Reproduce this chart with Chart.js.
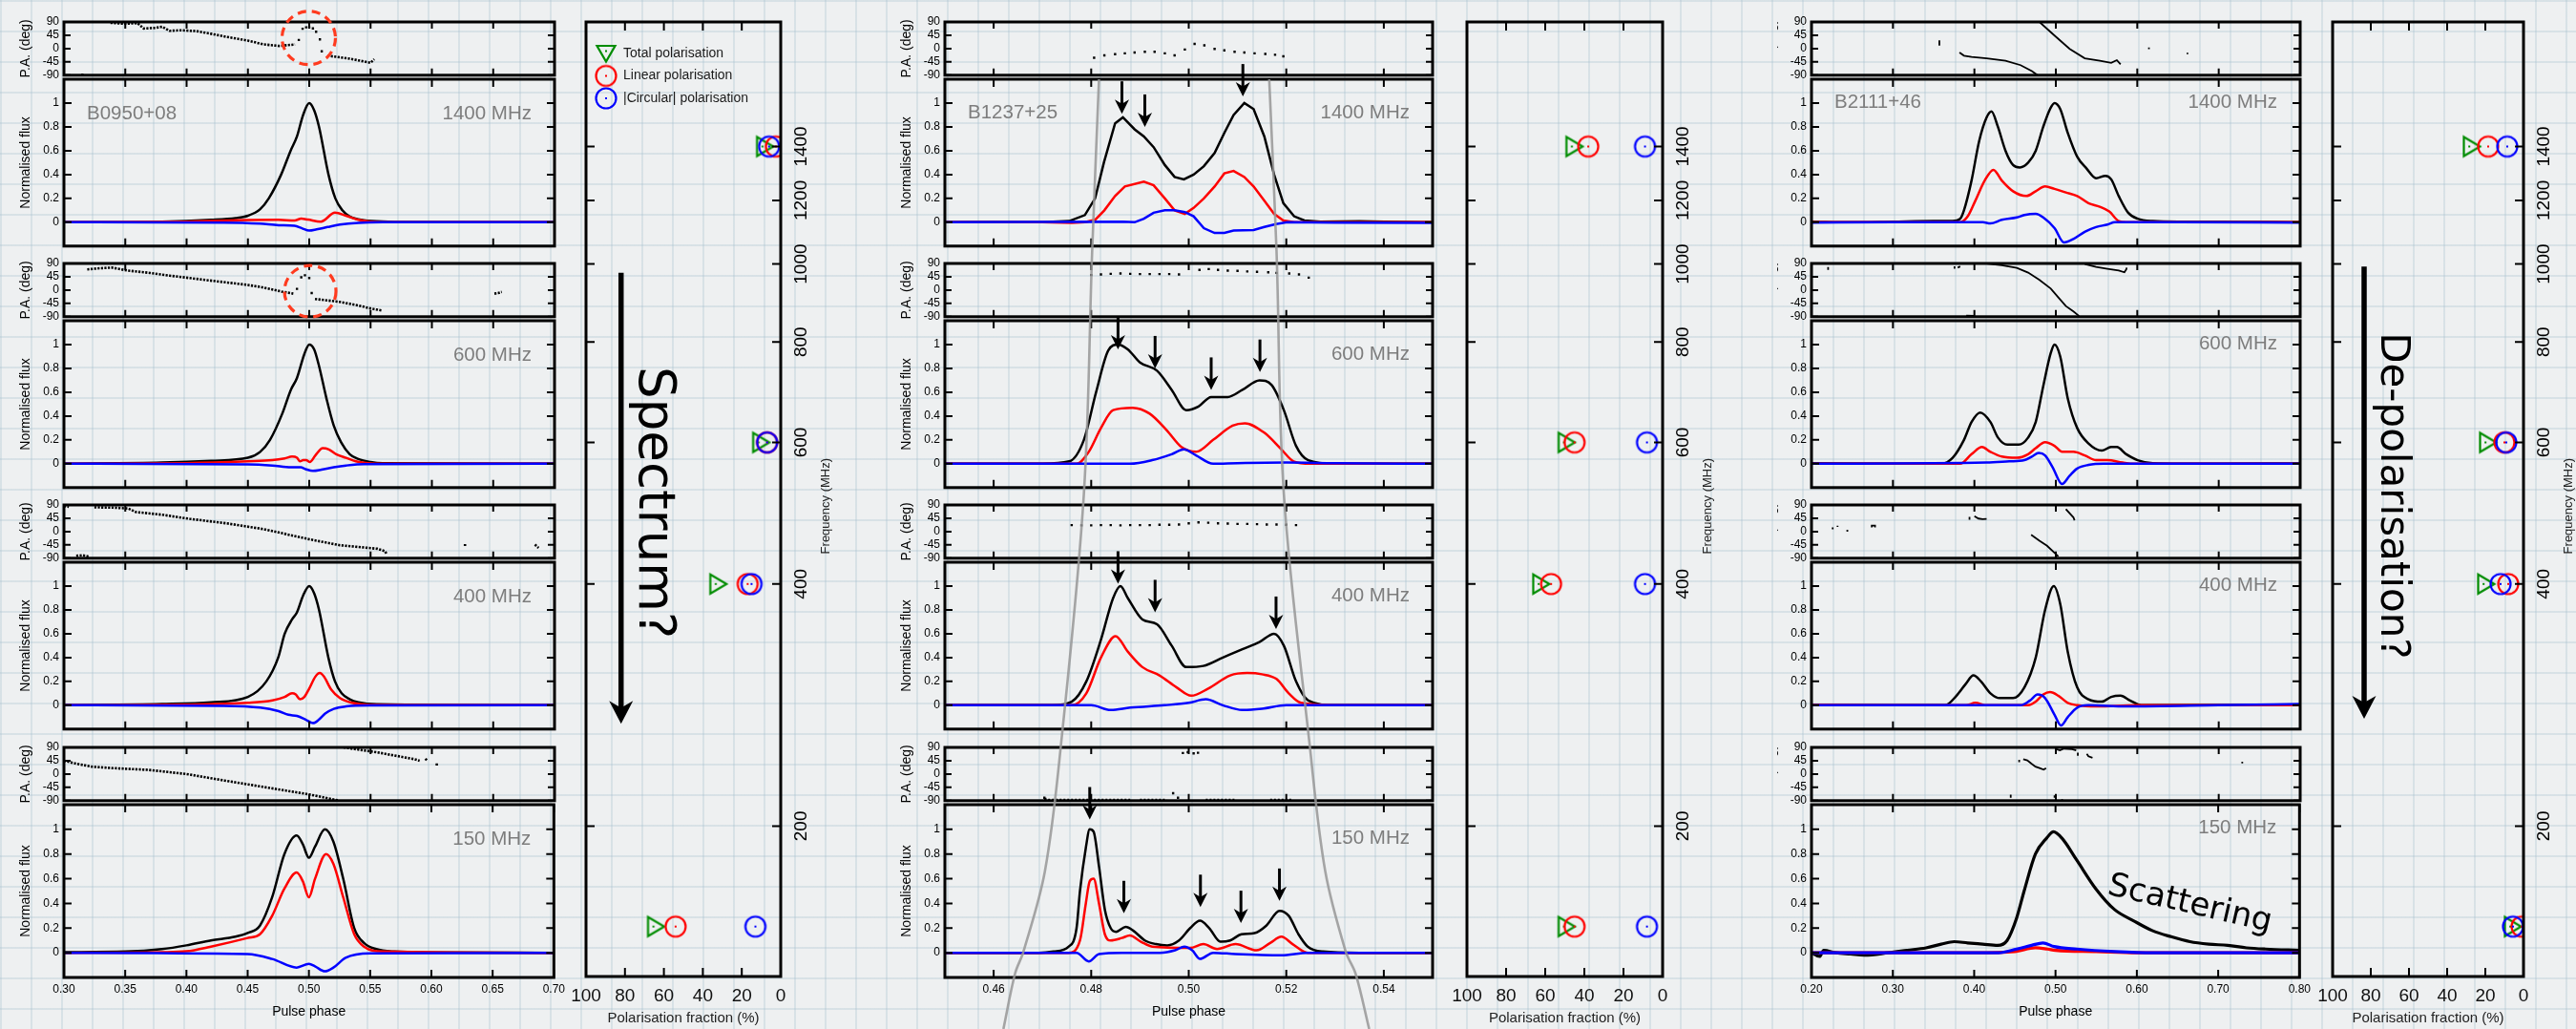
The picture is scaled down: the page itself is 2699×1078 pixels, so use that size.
<!DOCTYPE html>
<html>
<head>
<meta charset="utf-8">
<script src="https://cdn.jsdelivr.net/npm/chart.js@4.4.1/dist/chart.umd.min.js"></script>
<style>
html, body { margin: 0; padding: 0; }
body {
  width: 2699px; height: 1078px; position: relative; overflow: hidden;
  background-color: #eef0f1;
  background-image:
    linear-gradient(to right, rgba(165,190,205,0.30) 2px, transparent 2px),
    linear-gradient(to bottom, rgba(165,190,205,0.30) 2px, transparent 2px);
  background-size: 32px 32px;
}
canvas { position: absolute; }
</style>
</head>
<body>
<script>
// ---------------- axis ticks ----------------
const phaseTicksA = [0.30, 0.35, 0.40, 0.45, 0.50, 0.55, 0.60, 0.65, 0.70];
const phaseTicksB = [0.46, 0.48, 0.50, 0.52, 0.54];
const phaseTicksC = [0.20, 0.30, 0.40, 0.50, 0.60, 0.70, 0.80];
const paTicks = [-90, -45, 0, 45, 90];
const fluxTicks = [0, 0.2, 0.4, 0.6, 0.8, 1];
const fracTicks = [0, 20, 40, 60, 80, 100];
const freqTicks = [200, 400, 600, 800, 1000, 1200, 1400];

const freqs = [1400, 600, 400, 150];
const freqLabels = ['1400 MHz', '600 MHz', '400 MHz', '150 MHz'];

// ---------------- B0950+08 ----------------
const b0950_1400_I = [[0.30,0],[0.38,0.005],[0.42,0.02],[0.44,0.035],[0.45,0.055],[0.46,0.11],[0.467,0.2],[0.4771,0.4],[0.4848,0.6],[0.49,0.72],[0.495,0.9],[0.50,1.0],[0.504,0.94],[0.508,0.8],[0.5157,0.4],[0.5213,0.2],[0.527,0.1],[0.5327,0.05],[0.54,0.025],[0.551,0.01],[0.57,0.003],[0.70,0]];
const b0950_1400_L = [[0.30,0],[0.40,0.005],[0.45,0.018],[0.475,0.02],[0.488,0.015],[0.4935,0.03],[0.499,0.022],[0.5095,0.005],[0.521,0.08],[0.53,0.055],[0.54,0.02],[0.55,0.005],[0.57,0],[0.70,0]];
const b0950_1400_V = [[0.30,0],[0.43,-0.003],[0.46,-0.012],[0.475,-0.025],[0.488,-0.03],[0.494,-0.05],[0.50,-0.07],[0.506,-0.06],[0.515,-0.04],[0.525,-0.02],[0.54,-0.005],[0.56,0],[0.70,0]];
const b0950_1400_pa = [[0.338,87],[0.35,84],[0.36,86],[0.365,68],[0.375,70],[0.38,74],[0.386,60],[0.395,62],[0.408,59],[0.42,50],[0.432,40],[0.45,27],[0.463,14],[0.4756,9],[0.4884,14],[0.489,null],[0.5148,-24],[0.533,-34],[0.55,-48],[0.553,-36]];
const b0950_1400_paDots = [[0.4915,29],[0.4946,67],[0.4975,72],[0.50,72],[0.503,68],[0.5056,57],[0.5087,31],[0.5102,-9],[0.315,-88]];

const b0950_600_I = [[0.30,0],[0.38,0.01],[0.42,0.025],[0.45,0.05],[0.46,0.1],[0.468,0.2],[0.478,0.42],[0.485,0.62],[0.49,0.72],[0.496,0.92],[0.50,1.0],[0.504,0.96],[0.508,0.82],[0.514,0.55],[0.52,0.32],[0.526,0.18],[0.533,0.08],[0.54,0.04],[0.55,0.015],[0.56,0.005],[0.70,0]];
const b0950_600_L = [[0.30,0],[0.40,0.005],[0.45,0.02],[0.47,0.03],[0.48,0.045],[0.486,0.06],[0.49,0.05],[0.4925,0.02],[0.495,0.03],[0.4975,0.03],[0.5005,0.015],[0.505,0.07],[0.511,0.13],[0.516,0.12],[0.522,0.08],[0.53,0.05],[0.538,0.02],[0.548,0.005],[0.56,0],[0.70,0]];
const b0950_600_V = [[0.30,0],[0.45,-0.005],[0.47,-0.015],[0.485,-0.03],[0.493,-0.03],[0.497,-0.045],[0.503,-0.06],[0.51,-0.05],[0.52,-0.03],[0.53,-0.015],[0.545,-0.003],[0.70,0]];
const b0950_600_pa = [[0.319,70],[0.33,74],[0.339,76],[0.352,66],[0.37,58],[0.386,49],[0.40,42],[0.4157,34],[0.43,27],[0.4466,19],[0.46,11],[0.4774,-5],[0.487,-12],[0.488,null],[0.5047,-30],[0.515,-35],[0.525,-40],[0.54,-52],[0.55,-62],[0.559,-69],[0.56,null],[0.651,-12],[0.654,-10],[0.657,-6]];
const b0950_600_paDots = [[0.49,4],[0.4935,43],[0.4965,50],[0.50,41],[0.502,-10]];

const b0950_400_I = [[0.30,0],[0.38,0.01],[0.42,0.025],[0.45,0.07],[0.465,0.2],[0.4747,0.4],[0.48,0.6],[0.486,0.72],[0.49,0.78],[0.495,0.92],[0.50,1.0],[0.504,0.94],[0.508,0.8],[0.5156,0.4],[0.521,0.2],[0.5264,0.1],[0.533,0.05],[0.54,0.025],[0.555,0.008],[0.70,0]];
const b0950_400_L = [[0.30,0],[0.40,0.005],[0.45,0.02],[0.47,0.04],[0.48,0.07],[0.486,0.1],[0.489,0.09],[0.4925,0.05],[0.496,0.07],[0.50,0.14],[0.505,0.24],[0.5086,0.27],[0.512,0.24],[0.518,0.13],[0.525,0.06],[0.535,0.02],[0.55,0.003],[0.70,0]];
const b0950_400_V = [[0.30,0],[0.43,-0.005],[0.46,-0.02],[0.475,-0.05],[0.483,-0.08],[0.49,-0.09],[0.497,-0.12],[0.503,-0.15],[0.508,-0.12],[0.513,-0.07],[0.52,-0.03],[0.53,-0.01],[0.55,-0.002],[0.70,0]];
const b0950_400_pa = [[0.30,86],[0.304,84],[0.305,null],[0.3248,82],[0.34,81],[0.3525,78],[0.3587,66],[0.38,57],[0.4025,43],[0.4325,28],[0.4632,8],[0.50,-26],[0.5248,-46],[0.5555,-58],[0.5617,-66],[0.563,-75],[0.564,null],[0.31,-82],[0.315,-80],[0.32,-84],[0.321,null],[0.627,-42],[0.627,-50],[0.628,null],[0.684,-44],[0.687,-55]];
const b0950_400_paDots = [];

const b0950_150_I = [[0.30,0.005],[0.35,0.01],[0.38,0.03],[0.40,0.06],[0.42,0.1],[0.44,0.13],[0.45,0.16],[0.46,0.22],[0.47,0.45],[0.48,0.8],[0.49,0.95],[0.495,0.88],[0.50,0.77],[0.505,0.86],[0.513,1.0],[0.52,0.9],[0.528,0.6],[0.537,0.2],[0.545,0.08],[0.555,0.03],[0.57,0.01],[0.60,0.003],[0.70,0]];
const b0950_150_L = [[0.30,0],[0.38,0.005],[0.40,0.012],[0.42,0.05],[0.45,0.12],[0.46,0.15],[0.47,0.3],[0.48,0.52],[0.49,0.65],[0.495,0.58],[0.50,0.45],[0.505,0.6],[0.514,0.8],[0.52,0.72],[0.528,0.45],[0.537,0.15],[0.545,0.05],[0.56,0.01],[0.70,0]];
const b0950_150_V = [[0.30,0],[0.45,-0.01],[0.47,-0.05],[0.49,-0.12],[0.50,-0.09],[0.505,-0.11],[0.513,-0.15],[0.52,-0.12],[0.53,-0.04],[0.55,-0.005],[0.70,0]];
const b0950_150_pa = [[0.30,45],[0.305,40],[0.31,35],[0.3227,25],[0.34,20],[0.3691,14],[0.40,0],[0.4309,-22],[0.4618,-43],[0.4988,-68],[0.5236,-89],[0.524,null],[0.528,90],[0.5545,74],[0.586,50],[0.59,45],[0.591,null],[0.5947,52],[0.596,46],[0.597,null],[0.604,36],[0.604,28]];
const b0950_150_paDots = [];

// ---------------- B1237+25 ----------------
const b1237_1400_I = [[0.45,0],[0.46,0.003],[0.47,0.0],[0.4755,0.01],[0.4787,0.06],[0.4808,0.2],[0.4826,0.5],[0.4849,0.83],[0.4865,0.88],[0.4889,0.78],[0.4908,0.72],[0.4928,0.63],[0.4951,0.48],[0.4971,0.38],[0.499,0.36],[0.501,0.4],[0.5031,0.47],[0.5053,0.58],[0.5073,0.75],[0.5092,0.9],[0.5114,1.0],[0.5133,0.95],[0.5155,0.72],[0.5175,0.4],[0.5194,0.16],[0.5216,0.05],[0.5237,0.015],[0.527,0.005],[0.535,0.008],[0.54,0.005],[0.55,0.0]];
const b1237_1400_L = [[0.45,0],[0.47,0.0],[0.476,-0.005],[0.4787,0.0],[0.4808,0.02],[0.4827,0.1],[0.4849,0.22],[0.4869,0.3],[0.4908,0.34],[0.4928,0.31],[0.4951,0.2],[0.4971,0.1],[0.4992,0.07],[0.501,0.12],[0.5031,0.2],[0.5053,0.3],[0.5073,0.41],[0.5092,0.43],[0.5114,0.38],[0.5133,0.3],[0.5155,0.18],[0.5175,0.07],[0.5194,0.015],[0.5216,0.0],[0.55,0.0]];
const b1237_1400_V = [[0.45,0],[0.4865,0.005],[0.4889,0.0],[0.4908,0.03],[0.4928,0.08],[0.4951,0.1],[0.4971,0.1],[0.4992,0.085],[0.501,0.05],[0.5031,-0.05],[0.5053,-0.09],[0.5073,-0.09],[0.5092,-0.07],[0.5133,-0.065],[0.5155,-0.04],[0.5179,-0.015],[0.5202,0.0],[0.53,-0.003],[0.55,-0.006]];
const b1237_1400_pa = [];
const b1237_1400_paDots = [[0.4806,-31],[0.4827,-23],[0.4849,-19],[0.4869,-16],[0.4889,-13],[0.491,-11],[0.493,-11],[0.4951,-16],[0.4971,-23],[0.4992,-3],[0.5012,16],[0.5032,11],[0.5053,-1],[0.5073,-6],[0.5094,-11],[0.5114,-13],[0.5135,-16],[0.5157,-18],[0.5177,-21],[0.5194,-26]];
const b1237_1400_arrows = [[0.4863,0.91],[0.491,0.80],[0.5111,1.055]];

const b1237_600_I = [[0.45,0],[0.47,0.0],[0.4755,0.02],[0.4785,0.2],[0.481,0.6],[0.4835,0.95],[0.4855,1.0],[0.4875,0.96],[0.49,0.85],[0.4935,0.78],[0.4965,0.62],[0.4995,0.45],[0.502,0.48],[0.5046,0.56],[0.508,0.56],[0.511,0.62],[0.5145,0.7],[0.517,0.66],[0.5195,0.45],[0.522,0.15],[0.5245,0.03],[0.53,0.0],[0.55,0]];
const b1237_600_L = [[0.45,0],[0.477,0],[0.4795,0.1],[0.482,0.3],[0.4845,0.45],[0.4885,0.47],[0.492,0.42],[0.4955,0.28],[0.4985,0.14],[0.5015,0.1],[0.505,0.2],[0.509,0.32],[0.5115,0.34],[0.5155,0.26],[0.519,0.12],[0.5215,0.02],[0.525,0],[0.55,0]];
const b1237_600_V = [[0.45,0],[0.488,0],[0.4925,0.03],[0.4965,0.08],[0.499,0.12],[0.5015,0.07],[0.505,0.0],[0.51,0.005],[0.52,0.01],[0.53,0.005],[0.55,0]];
const b1237_600_pa = [];
const b1237_600_paDots = [[0.48,51],[0.482,53],[0.484,55],[0.486,56],[0.488,55],[0.49,54],[0.492,54],[0.494,54],[0.496,54],[0.498,53],[0.5022,68],[0.5041,71],[0.506,68],[0.508,66],[0.51,65],[0.512,63],[0.514,62],[0.5163,60],[0.518,58],[0.5206,56],[0.5226,53],[0.5246,42]];
const b1237_600_arrows = [[0.4855,0.96],[0.4931,0.80],[0.5046,0.62],[0.5146,0.77]];

const b1237_400_I = [[0.45,0],[0.472,0],[0.476,0.03],[0.479,0.2],[0.482,0.55],[0.4845,0.9],[0.486,1.0],[0.4875,0.9],[0.4905,0.72],[0.4935,0.68],[0.4965,0.5],[0.4995,0.32],[0.503,0.33],[0.507,0.4],[0.511,0.47],[0.5145,0.53],[0.5175,0.6],[0.5195,0.5],[0.522,0.2],[0.5245,0.04],[0.53,0],[0.55,0]];
const b1237_400_L = [[0.45,0],[0.476,0],[0.479,0.1],[0.482,0.4],[0.485,0.58],[0.4875,0.45],[0.4905,0.32],[0.494,0.25],[0.4975,0.15],[0.5005,0.08],[0.504,0.14],[0.5085,0.25],[0.512,0.27],[0.515,0.26],[0.518,0.22],[0.5205,0.1],[0.523,0.02],[0.53,0],[0.55,0]];
const b1237_400_V = [[0.45,0],[0.48,0],[0.484,-0.04],[0.488,-0.02],[0.495,0.0],[0.5,0.02],[0.5035,0.05],[0.507,0.0],[0.511,-0.04],[0.515,-0.03],[0.52,0],[0.55,0]];
const b1237_400_pa = [];
const b1237_400_paDots = [[0.476,22],[0.478,21],[0.48,21],[0.482,22],[0.484,22],[0.486,21],[0.488,22],[0.49,22],[0.492,22],[0.494,23],[0.496,23],[0.498,24],[0.5,28],[0.502,31],[0.504,30],[0.506,28],[0.508,27],[0.51,26],[0.512,26],[0.514,25],[0.516,24],[0.518,24],[0.52,23],[0.522,22]];
const b1237_400_arrows = [[0.4855,1.02],[0.4931,0.78],[0.5179,0.64]];

const b1237_150_I = [[0.45,0],[0.46,0.0],[0.4692,0.0],[0.4723,0.01],[0.4754,0.05],[0.477,0.2],[0.4777,0.5],[0.4789,0.85],[0.4797,1.0],[0.4805,0.98],[0.4816,0.7],[0.4828,0.35],[0.484,0.2],[0.4851,0.17],[0.4871,0.21],[0.4886,0.18],[0.491,0.1],[0.4933,0.07],[0.4956,0.06],[0.498,0.1],[0.5003,0.2],[0.5023,0.26],[0.5042,0.2],[0.5065,0.09],[0.5085,0.1],[0.5108,0.15],[0.5135,0.16],[0.5159,0.22],[0.5186,0.34],[0.5205,0.3],[0.5225,0.15],[0.5244,0.05],[0.5275,0.01],[0.535,0.0],[0.55,0]];
const b1237_150_L = [[0.45,0],[0.4754,0.0],[0.4777,0.1],[0.4789,0.4],[0.4797,0.58],[0.4805,0.6],[0.4816,0.4],[0.4828,0.15],[0.484,0.1],[0.4863,0.12],[0.4879,0.14],[0.4902,0.09],[0.4925,0.05],[0.5003,0.04],[0.503,0.07],[0.5058,0.03],[0.5096,0.07],[0.5139,0.02],[0.5167,0.08],[0.519,0.13],[0.5213,0.07],[0.5244,0.0],[0.55,0]];
const b1237_150_V = [[0.45,0],[0.477,0],[0.4795,-0.07],[0.4816,-0.01],[0.4863,0.0],[0.4941,0.0],[0.4972,0.02],[0.4991,0.05],[0.5007,0.02],[0.5023,-0.05],[0.505,0.0],[0.5096,-0.01],[0.519,-0.02],[0.5244,0.0],[0.55,0]];
const b1237_150_pa = [[0.4704,-87],[0.488,-87],[0.4885,null],[0.490,-87],[0.4955,-87],[0.496,null],[0.5035,-87],[0.5097,-87],[0.51,null],[0.5167,-87],[0.5213,-87]];
const b1237_150_paDots = [[0.4704,-80],[0.4706,-84],[0.4968,-65],[0.4978,-80],[0.4988,71],[0.4998,74],[0.501,70],[0.5019,72]];
const b1237_150_arrows = [[0.4797,1.08],[0.4867,0.32],[0.5024,0.37],[0.5107,0.24],[0.5186,0.42]];

// ---------------- B2111+46 ----------------
const b2111_1400_I = [[0.20,0.005],[0.25,0.0],[0.30,0.005],[0.35,0.01],[0.3733,0.01],[0.3826,0.03],[0.3872,0.1],[0.3965,0.35],[0.4058,0.68],[0.415,0.88],[0.421,0.93],[0.4289,0.8],[0.4382,0.6],[0.4475,0.48],[0.4558,0.46],[0.466,0.5],[0.4753,0.6],[0.4845,0.8],[0.4929,0.95],[0.4984,1.0],[0.5054,0.95],[0.5146,0.75],[0.5262,0.55],[0.5378,0.45],[0.5494,0.37],[0.561,0.39],[0.568,0.36],[0.5772,0.22],[0.5888,0.08],[0.6004,0.03],[0.6189,0.01],[0.65,0.005],[0.70,0.005],[0.80,0.0]];
const b2111_1400_L = [[0.20,0],[0.3826,0.0],[0.3919,0.05],[0.4011,0.18],[0.4127,0.35],[0.4234,0.44],[0.4336,0.35],[0.4475,0.26],[0.4637,0.22],[0.4753,0.26],[0.4868,0.3],[0.4984,0.28],[0.5123,0.25],[0.5262,0.22],[0.5401,0.16],[0.554,0.13],[0.5656,0.09],[0.5772,0.01],[0.5865,0.0],[0.80,0]];
const b2111_1400_V = [[0.20,-0.003],[0.30,0.0],[0.4104,0.0],[0.4197,-0.01],[0.4336,0.02],[0.4521,0.04],[0.4614,0.06],[0.4753,0.07],[0.4845,0.04],[0.4984,-0.05],[0.51,-0.17],[0.5216,-0.14],[0.5355,-0.08],[0.5494,-0.04],[0.5633,-0.02],[0.5726,0.0],[0.65,0.0],[0.80,-0.003]];
const b2111_1400_pa = [[0.357,10],[0.357,28],[0.358,null],[0.3817,-13],[0.3872,-24],[0.3965,-28],[0.415,-33],[0.4382,-41],[0.4567,-56],[0.4706,-76],[0.4776,-90],[0.478,null],[0.4799,90],[0.4984,44],[0.517,-1],[0.5355,-33],[0.554,-41],[0.568,-48],[0.5749,-39],[0.5795,-53],[0.58,null],[0.6143,-2],[0.6143,4],[0.615,null],[0.6616,-14],[0.6616,-19]];
const b2111_1400_paDots = [];

const b2111_600_I = [[0.20,0.005],[0.30,0.0],[0.3594,0.0],[0.3733,0.05],[0.3872,0.2],[0.3965,0.35],[0.4071,0.43],[0.4197,0.35],[0.4289,0.22],[0.4405,0.16],[0.4544,0.16],[0.466,0.22],[0.4753,0.35],[0.4845,0.65],[0.4938,0.93],[0.4984,1.0],[0.5054,0.9],[0.5146,0.55],[0.5262,0.3],[0.5401,0.17],[0.5563,0.11],[0.5679,0.14],[0.5749,0.14],[0.5865,0.08],[0.6004,0.03],[0.6189,0.005],[0.70,0.0],[0.80,0.003]];
const b2111_600_L = [[0.20,0],[0.3826,0.0],[0.3965,0.08],[0.4094,0.14],[0.4197,0.1],[0.4336,0.06],[0.4521,0.05],[0.466,0.08],[0.4753,0.13],[0.4868,0.18],[0.4984,0.15],[0.5077,0.1],[0.5216,0.1],[0.5355,0.07],[0.5494,0.03],[0.5633,0.03],[0.5819,0.01],[0.5958,0.0],[0.80,0]];
const b2111_600_V = [[0.20,0],[0.415,0.01],[0.4428,0.02],[0.4614,0.03],[0.4706,0.06],[0.479,0.09],[0.4868,0.07],[0.4961,-0.03],[0.5077,-0.17],[0.517,-0.1],[0.5262,-0.04],[0.5401,-0.01],[0.5587,0.0],[0.80,0]];
const b2111_600_pa = [[0.2204,68],[0.2204,78],[0.221,null],[0.3756,72],[0.3756,80],[0.377,null],[0.3795,76],[0.3826,80],[0.383,null],[0.39,-86],[0.40,-87],[0.401,null],[0.415,90],[0.4336,84],[0.4521,75],[0.466,59],[0.4799,34],[0.4938,5],[0.5031,-25],[0.5123,-54],[0.5216,-72],[0.5286,-88],[0.53,null],[0.5355,88],[0.5494,78],[0.5633,72],[0.5772,66],[0.5842,60],[0.5865,70],[0.587,76]];
const b2111_600_paDots = [];

const b2111_400_I = [[0.20,0.005],[0.30,0.0],[0.364,0.0],[0.378,0.08],[0.3895,0.18],[0.3988,0.25],[0.4081,0.2],[0.4197,0.1],[0.4312,0.06],[0.4475,0.06],[0.4614,0.15],[0.4753,0.4],[0.4868,0.8],[0.4975,1.0],[0.5054,0.85],[0.5146,0.45],[0.5262,0.15],[0.5401,0.05],[0.5563,0.03],[0.5679,0.07],[0.5795,0.08],[0.5911,0.04],[0.605,0.0],[0.80,0.005]];
const b2111_400_L = [[0.20,0.005],[0.30,0.0],[0.39,0.0],[0.4011,0.02],[0.415,0.0],[0.466,0.0],[0.4753,0.03],[0.4845,0.09],[0.4929,0.11],[0.5031,0.08],[0.5146,0.02],[0.5262,0.0],[0.55,-0.01],[0.60,0.0],[0.80,0.0]];
const b2111_400_V = [[0.20,0.0],[0.4568,0.0],[0.4683,0.04],[0.4776,0.09],[0.4868,0.06],[0.4984,-0.08],[0.5063,-0.17],[0.5146,-0.1],[0.5262,-0.02],[0.5401,0.0],[0.5865,-0.01],[0.70,0.0],[0.80,0.01]];
const b2111_400_pa = [[0.226,8],[0.226,14],[0.227,null],[0.232,16],[0.232,20],[0.233,null],[0.244,0],[0.244,6],[0.245,null],[0.274,14],[0.274,20],[0.278,20],[0.278,14],[0.279,null],[0.394,40],[0.394,50],[0.397,null],[0.40,52],[0.405,44],[0.41,42],[0.415,43],[0.416,null],[0.4697,-11],[0.4799,-31],[0.4892,-48],[0.5031,-84],[0.504,null],[0.5123,76],[0.5216,48],[0.523,38]];
const b2111_400_paDots = [];

const b2111_150_I = [[0.20,0.0],[0.21,-0.03],[0.215,0.02],[0.23,0.0],[0.2482,-0.01],[0.265,-0.02],[0.2945,0.0],[0.3177,0.02],[0.3409,0.04],[0.3594,0.07],[0.3756,0.09],[0.3919,0.08],[0.4104,0.07],[0.4289,0.06],[0.4405,0.1],[0.4521,0.28],[0.4614,0.5],[0.4753,0.8],[0.4892,0.93],[0.4975,0.98],[0.5077,0.93],[0.5262,0.75],[0.5494,0.52],[0.5726,0.35],[0.5958,0.26],[0.6189,0.18],[0.6421,0.13],[0.6653,0.09],[0.6885,0.07],[0.7117,0.06],[0.7349,0.04],[0.7581,0.03],[0.80,0.02]];
const b2111_150_L = [[0.20,0.0],[0.30,0.0],[0.40,0.0],[0.45,0.01],[0.4753,0.04],[0.49,0.03],[0.50,0.02],[0.55,0.01],[0.60,0.0],[0.80,0.0]];
const b2111_150_V = [[0.20,0.0],[0.30,0.0],[0.43,0.0],[0.4521,0.03],[0.4706,0.06],[0.4845,0.08],[0.4984,0.05],[0.5262,0.03],[0.5726,0.01],[0.62,0.0],[0.80,0.0]];
const b2111_150_pa = [[0.455,40],[0.455,48],[0.456,null],[0.46,50],[0.465,46],[0.47,35],[0.475,25],[0.48,20],[0.485,15],[0.488,20],[0.489,null],[0.4446,-70],[0.4446,-80],[0.445,null],[0.4984,-72],[0.4984,-80],[0.499,null],[0.50,85],[0.505,80],[0.51,86],[0.52,84],[0.525,80],[0.526,null],[0.527,72],[0.527,62],[0.528,null],[0.538,68],[0.54,60],[0.545,55],[0.546,null],[0.5077,-85],[0.5077,-90],[0.508,null],[0.7289,36],[0.7289,42]];
const b2111_150_paDots = [];

// ---------------- polarisation fractions (%) ----------------
const polFreqs = [1400, 600, 400, 150];
const b0950_fracTotal = [8, 10, 32, 64];
const b0950_fracLin = [2.5, 7, 17, 54];
const b0950_fracCirc = [6, 7, 15, 13];
const b1237_fracTotal = [45, 49, 62, 49];
const b1237_fracLin = [38, 45, 57, 45];
const b1237_fracCirc = [9, 8, 9, 8];
const b2111_fracTotal = [27, 18.5, 19.5, 5.5];
const b2111_fracLin = [18.5, 10, 8, 1];
const b2111_fracCirc = [8.5, 9, 12, 5.5];

// grey window across the B1237+25 column: [phase, fraction of figure height]
const greyLeft = [[0.4816,0.077],[0.4802,0.244],[0.4785,0.48],[0.4738,0.724],[0.4705,0.847],[0.4661,0.925],[0.4644,0.946],[0.462,1.0]];
const greyRight = [[0.5165,0.077],[0.518,0.244],[0.5195,0.48],[0.5248,0.724],[0.528,0.847],[0.5322,0.925],[0.5342,0.946],[0.537,1.0]];

// ---------------- assemble ----------------
const D = {
  b0950: {1400:{I:b0950_1400_I,L:b0950_1400_L,V:b0950_1400_V,pa:b0950_1400_pa,paDots:b0950_1400_paDots},
          600:{I:b0950_600_I,L:b0950_600_L,V:b0950_600_V,pa:b0950_600_pa,paDots:b0950_600_paDots},
          400:{I:b0950_400_I,L:b0950_400_L,V:b0950_400_V,pa:b0950_400_pa,paDots:b0950_400_paDots},
          150:{I:b0950_150_I,L:b0950_150_L,V:b0950_150_V,pa:b0950_150_pa,paDots:b0950_150_paDots}},
  b1237: {1400:{I:b1237_1400_I,L:b1237_1400_L,V:b1237_1400_V,pa:b1237_1400_pa,paDots:b1237_1400_paDots,arrows:b1237_1400_arrows,straight:true},
          600:{I:b1237_600_I,L:b1237_600_L,V:b1237_600_V,pa:b1237_600_pa,paDots:b1237_600_paDots,arrows:b1237_600_arrows},
          400:{I:b1237_400_I,L:b1237_400_L,V:b1237_400_V,pa:b1237_400_pa,paDots:b1237_400_paDots,arrows:b1237_400_arrows},
          150:{I:b1237_150_I,L:b1237_150_L,V:b1237_150_V,pa:b1237_150_pa,paDots:b1237_150_paDots,arrows:b1237_150_arrows}},
  b2111: {1400:{I:b2111_1400_I,L:b2111_1400_L,V:b2111_1400_V,pa:b2111_1400_pa,paDots:b2111_1400_paDots},
          600:{I:b2111_600_I,L:b2111_600_L,V:b2111_600_V,pa:b2111_600_pa,paDots:b2111_600_paDots},
          400:{I:b2111_400_I,L:b2111_400_L,V:b2111_400_V,pa:b2111_400_pa,paDots:b2111_400_paDots},
          150:{I:b2111_150_I,L:b2111_150_L,V:b2111_150_V,pa:b2111_150_pa,paDots:b2111_150_paDots,thick:true}}
};

const FONT = "'Liberation Sans', Arial, sans-serif";
const DECO = "'DejaVu Sans', sans-serif";
Chart.defaults.font.family = FONT;
Chart.defaults.color = '#000';
Chart.defaults.animation = false;

const cols = [
  {key:'b0950', name:'B0950+08', left:67, right:581, min:0.30, max:0.70, ticks:phaseTicksA, yw:67, titles:true, labelDy:36, paW:2.6, paDash:[2.2,1.4]},
  {key:'b1237', name:'B1237+25', left:990, right:1501, min:0.45, max:0.55, ticks:phaseTicksB, yw:67, titles:true, labelDy:35, paW:2.4, paDash:[2,2]},
  {key:'b2111', name:'B2111+46', left:1898, right:2410, min:0.20, max:0.80, ticks:phaseTicksC, yw:36, titles:false, labelDy:24, paW:1.8, paDash:[]}
];
const rowTop = [23, 276, 529, 783];
const PA_H = 60, FLUX_H = 181;

function canvasAt(x, y, w, h) {
  const c = document.createElement('canvas');
  c.width = w; c.height = h;
  c.style.left = x + 'px'; c.style.top = y + 'px';
  c.style.width = w + 'px'; c.style.height = h + 'px';
  document.body.appendChild(c);
  return c;
}

function framePlugin(o) {
  return {
    id: 'frame',
    afterDatasetsDraw(chart) {
      const ctx = chart.ctx, a = chart.chartArea;
      const x = chart.scales.x, y = chart.scales.y;
      ctx.save();
      ctx.strokeStyle = '#000';
      ctx.lineWidth = 2;
      ctx.beginPath();
      (o.xt || []).forEach(v => {
        const p = x.getPixelForValue(v);
        ctx.moveTo(p, a.top); ctx.lineTo(p, a.top + o.tl);
        ctx.moveTo(p, a.bottom); ctx.lineTo(p, a.bottom - o.tl);
      });
      (o.yt || []).forEach(v => {
        const p = y.getPixelForValue(v);
        ctx.moveTo(a.left, p); ctx.lineTo(a.left + o.tl, p);
        ctx.moveTo(a.right, p); ctx.lineTo(a.right - o.tl, p);
      });
      ctx.stroke();
      ctx.lineWidth = 3;
      ctx.strokeRect(a.left, a.top, a.right - a.left, a.bottom - a.top);
      if (o.extra) o.extra(chart, ctx, a, x, y);
      ctx.restore();
    }
  };
}

function setTicks(arr) { return s => { s.ticks = arr.map(v => ({value: v})); }; }

function downArrow(ctx, x, yTip, len, lw, hw, hl) {
  ctx.lineWidth = lw;
  ctx.beginPath(); ctx.moveTo(x, yTip - len); ctx.lineTo(x, yTip - hl * 0.6); ctx.stroke();
  ctx.beginPath(); ctx.moveTo(x, yTip); ctx.lineTo(x - hw, yTip - hl); ctx.lineTo(x, yTip - hl * 0.7); ctx.lineTo(x + hw, yTip - hl); ctx.closePath(); ctx.fill();
}

function yScale(col, min, max, ticks, title) {
  return {
    min: min, max: max,
    afterBuildTicks: setTicks(ticks),
    afterFit: s => { s.width = col.yw; },
    grid: {display: false, drawTicks: false}, border: {display: false},
    ticks: {font: {size: 12}, padding: 5, color: '#000', autoSkip: false, callback: v => String(v)},
    title: {display: col.titles, text: title, font: {size: 14}, padding: {top: 19, bottom: 0}, color: '#000'}
  };
}

// B2111+46 column: its axis titles are cut by the canvas edge, only a sliver shows
function clippedTitle(ctx, a, text) {
  ctx.save();
  ctx.font = '14px ' + FONT; ctx.fillStyle = '#000';
  ctx.textAlign = 'center'; ctx.textBaseline = 'middle';
  ctx.translate(a.left - 42, (a.top + a.bottom) / 2); ctx.rotate(-Math.PI / 2);
  ctx.fillText(text, 0, 0);
  ctx.restore();
}

function paChart(col, r) {
  const padT = 16, padB = 8, padR = 14;
  const W = col.yw + (col.right - col.left) + padR;
  const cv = canvasAt(col.left - col.yw, rowTop[r] - padT, W, padT + PA_H + padB);
  const d = D[col.key][freqs[r]];
  const ds = [];
  if (d.pa.length) ds.push({data: d.pa, showLine: true, borderColor: '#000', borderWidth: col.paW, borderDash: col.paDash, pointRadius: 0, tension: 0, spanGaps: false});
  if (d.paDots.length) ds.push({data: d.paDots, showLine: false, pointRadius: 1.7, pointStyle: 'rect', backgroundColor: '#000', borderWidth: 0});
  const extra = (chart, ctx, a, x, y) => {
    if (col.key === 'b0950' && r < 2) {
      const circ = r === 0 ? [0.4996, 36, 28] : [0.5008, -4, 27];
      ctx.strokeStyle = '#ff3b1f'; ctx.lineWidth = 3.2; ctx.setLineDash([9, 6]);
      ctx.beginPath(); ctx.arc(x.getPixelForValue(circ[0]), y.getPixelForValue(circ[1]), circ[2], 0, Math.PI * 2); ctx.stroke();
      ctx.setLineDash([]);
    }
    if (!col.titles) clippedTitle(ctx, a, 'P.A. (deg)');
  };
  new Chart(cv, {
    type: 'scatter',
    data: {datasets: ds},
    options: {
      responsive: false, maintainAspectRatio: false, devicePixelRatio: 1, animation: false,
      layout: {padding: {top: padT, bottom: padB, left: 0, right: padR}},
      plugins: {legend: {display: false}, tooltip: {enabled: false}},
      scales: {
        x: {type: 'linear', min: col.min, max: col.max, grid: {display: false, drawTicks: false}, border: {display: false}, ticks: {display: false}, afterFit: s => { s.height = 0; }},
        y: yScale(col, -90, 90, paTicks, 'P.A. (deg)')
      }
    },
    plugins: [framePlugin({xt: col.ticks, yt: paTicks, tl: 7, extra: extra})]
  });
}

function fluxChart(col, r) {
  const last = r === 3;
  const padT = 38, padB = last ? 0 : 6, padR = 16, xh = last ? 45 : 0;
  const W = col.yw + (col.right - col.left) + padR;
  const cv = canvasAt(col.left - col.yw, rowTop[r] + PA_H - padT, W, padT + FLUX_H + xh + padB);
  const d = D[col.key][freqs[r]];
  const lw = d.thick ? 3.2 : 2.5;
  const mk = (data, color) => ({data: data, showLine: true, borderColor: color, borderWidth: lw, pointRadius: 0,
    tension: 0, cubicInterpolationMode: d.straight ? 'default' : 'monotone'});
  const extra = (chart, ctx, a, x, y) => {
    ctx.fillStyle = '#7d7d7d';
    ctx.font = '20.5px ' + FONT;
    ctx.textBaseline = 'middle';
    ctx.textAlign = 'right';
    ctx.fillText(freqLabels[r], a.right - 24, a.top + col.labelDy);
    if (r === 0) { ctx.textAlign = 'left'; ctx.fillText(col.name, a.left + 24, a.top + col.labelDy); }
    if (d.arrows) {
      ctx.fillStyle = '#000'; ctx.strokeStyle = '#000';
      d.arrows.forEach(p => downArrow(ctx, x.getPixelForValue(p[0]), y.getPixelForValue(p[1]), 34, 3, 7.5, 15));
    }
    if (col.key === 'b2111' && r === 3) {
      ctx.save();
      ctx.translate(x.getPixelForValue(0.665), y.getPixelForValue(0.39));
      ctx.rotate(13 * Math.PI / 180);
      ctx.font = '34px ' + DECO;
      ctx.fillStyle = '#000'; ctx.textAlign = 'center'; ctx.textBaseline = 'middle';
      ctx.fillText('Scattering', 0, 0);
      ctx.restore();
    }
    if (!col.titles) clippedTitle(ctx, a, 'Normalised flux');
  };
  new Chart(cv, {
    type: 'scatter',
    data: {datasets: [mk(d.V, '#0000ff'), mk(d.L, '#ff0000'), mk(d.I, '#000000')]},
    options: {
      responsive: false, maintainAspectRatio: false, devicePixelRatio: 1, animation: false,
      layout: {padding: {top: padT, bottom: padB, left: 0, right: padR}},
      plugins: {legend: {display: false}, tooltip: {enabled: false}},
      scales: {
        x: {type: 'linear', min: col.min, max: col.max,
            afterBuildTicks: setTicks(col.ticks),
            grid: {display: false, drawTicks: false}, border: {display: false},
            ticks: {display: last, font: {size: 12}, padding: 5, autoSkip: false, maxRotation: 0, callback: v => v.toFixed(2)},
            title: {display: last, text: 'Pulse phase', font: {size: 14}, padding: 0},
            afterFit: s => { s.height = xh; }},
        y: yScale(col, -0.2, 1.2, fluxTicks, 'Normalised flux')
      }
    },
    plugins: [framePlugin({xt: col.ticks, yt: fluxTicks, tl: 8, extra: extra})]
  });
}

// ---------------- markers ----------------
function markerImg(kind, color) {
  const s = 28, c = document.createElement('canvas');
  c.width = s; c.height = s;
  const g = c.getContext('2d');
  g.strokeStyle = color; g.fillStyle = color; g.lineWidth = 2.2;
  g.translate(s / 2, s / 2);
  g.beginPath();
  if (kind === 'circle') { g.arc(0, 0, 10.5, 0, Math.PI * 2); g.stroke(); g.fillRect(-1, -1, 2, 2); }
  else if (kind === 'triRight') { g.moveTo(-8.5, -10); g.lineTo(8.5, 0); g.lineTo(-8.5, 10); g.closePath(); g.stroke(); g.fillRect(-3.8, -1, 2, 2); }
  else { g.moveTo(-9.5, -8); g.lineTo(9.5, -8); g.lineTo(0, 8.5); g.closePath(); g.stroke(); g.fillRect(-1, -3.5, 2, 2); }
  return c;
}
const imgTotal = markerImg('triRight', '#008c00');
const imgTotalLegend = markerImg('triDown', '#008c00');
const imgLin = markerImg('circle', '#ff0000');
const imgCirc = markerImg('circle', '#0000ff');

// annotation text: [text, fraction %, frequency MHz, font px]
const polPanels = [
  {key:'b0950', left:614, right:818, T:b0950_fracTotal, L:b0950_fracLin, V:b0950_fracCirc, legend:true,
   arrow:[82, 975, 268], text:['Spectrum?', 66, 505, 53]},
  {key:'b1237', left:1537, right:1742, T:b1237_fracTotal, L:b1237_fracLin, V:b1237_fracCirc},
  {key:'b2111', left:2444, right:2644, T:b2111_fracTotal, L:b2111_fracLin, V:b2111_fracCirc,
   arrow:[83.5, 993, 272], text:['De-polarisation?', 69, 515, 42]}
];
const zip = (vals) => vals.map((v, i) => [v, polFreqs[i]]);

function polarChart(p) {
  const padL = 20, padR = 70, padT = 12, top = 22, bottom = 1023, xh = 53;
  const cv = canvasAt(p.left - padL, top - padT, padL + (p.right - p.left) + padR, padT + (bottom - top) + xh);
  const extra = (chart, ctx, a, x, y) => {
    ctx.fillStyle = '#000';
    ctx.font = '19px ' + FONT;
    ctx.textAlign = 'center'; ctx.textBaseline = 'middle';
    freqTicks.forEach(v => {
      ctx.save(); ctx.translate(a.right + 22, y.getPixelForValue(v)); ctx.rotate(-Math.PI / 2);
      ctx.fillText(String(v), 0, 0); ctx.restore();
    });
    ctx.save(); ctx.font = '13px ' + FONT; ctx.fillStyle = '#222';
    ctx.translate(a.right + 47, y.getPixelForValue(500)); ctx.rotate(-Math.PI / 2);
    ctx.fillText('Frequency (MHz)', 0, 0); ctx.restore();
    if (p.legend) {
      const items = [['Total polarisation', imgTotalLegend], ['Linear polarisation', imgLin], ['|Circular| polarisation', imgCirc]];
      ctx.font = '14px ' + FONT; ctx.textAlign = 'left'; ctx.fillStyle = '#1a1a1a';
      items.forEach((it, i) => {
        const yy = a.top + 33 + i * 23.5;
        ctx.drawImage(it[1], a.left + 21 - 14, yy - 14);
        ctx.fillText(it[0], a.left + 39, yy);
      });
    }
    if (p.arrow) {
      ctx.fillStyle = '#000'; ctx.strokeStyle = '#000';
      const ax = x.getPixelForValue(p.arrow[0]);
      const y1 = y.getPixelForValue(p.arrow[1]), y2 = y.getPixelForValue(p.arrow[2]);
      downArrow(ctx, ax, y2, y2 - y1, 5.5, 12.5, 24);
    }
    if (p.text) {
      ctx.save();
      ctx.translate(x.getPixelForValue(p.text[1]), y.getPixelForValue(p.text[2]));
      ctx.rotate(Math.PI / 2);
      ctx.font = p.text[3] + 'px ' + DECO;
      ctx.fillStyle = '#000'; ctx.textAlign = 'center'; ctx.textBaseline = 'middle';
      ctx.fillText(p.text[0], 0, 0);
      ctx.restore();
    }
  };
  const mk = (vals, img) => ({data: zip(vals), pointStyle: img, pointRadius: 12, showLine: false});
  new Chart(cv, {
    type: 'scatter',
    data: {datasets: [mk(p.V, imgCirc), mk(p.L, imgLin), mk(p.T, imgTotal)]},
    options: {
      responsive: false, maintainAspectRatio: false, devicePixelRatio: 1, animation: false,
      layout: {padding: {top: padT, bottom: 0, left: padL, right: padR}},
      plugins: {legend: {display: false}, tooltip: {enabled: false}},
      scales: {
        x: {type: 'linear', min: 0, max: 100, reverse: true,
            afterBuildTicks: setTicks(fracTicks),
            grid: {display: false, drawTicks: false}, border: {display: false},
            ticks: {font: {size: 19}, padding: 9, color: '#111', autoSkip: false, maxRotation: 0},
            title: {display: true, text: 'Polarisation fraction (%)', font: {size: 15}, padding: 0, color: '#222'},
            afterFit: s => { s.height = xh; }},
        y: {type: 'logarithmic', position: 'right', min: 130, max: 2000,
            grid: {display: false, drawTicks: false}, border: {display: false},
            ticks: {display: false}, afterFit: s => { s.width = 0; }}
      }
    },
    plugins: [framePlugin({xt: [20, 40, 60, 80], yt: freqTicks, tl: 9, extra: extra})]
  });
}

cols.forEach(col => { for (let r = 0; r < 4; r++) { paChart(col, r); fluxChart(col, r); } });
polPanels.forEach(polarChart);

// grey curve overlay on the B1237+25 column
(function () {
  const cv = canvasAt(990, 0, 511, 1078);
  const g = data => ({data: data, showLine: true, borderColor: 'rgba(150,150,150,0.85)', borderWidth: 2.6, pointRadius: 0, tension: 0.35});
  new Chart(cv, {
    type: 'scatter',
    data: {datasets: [g(greyLeft), g(greyRight)]},
    options: {
      responsive: false, maintainAspectRatio: false, devicePixelRatio: 1, animation: false,
      layout: {padding: 0},
      plugins: {legend: {display: false}, tooltip: {enabled: false}},
      scales: {x: {type: 'linear', display: false, min: 0.45, max: 0.55}, y: {type: 'linear', display: false, min: 0, max: 1, reverse: true}}
    }
  });
})();
</script>
</body>
</html>
